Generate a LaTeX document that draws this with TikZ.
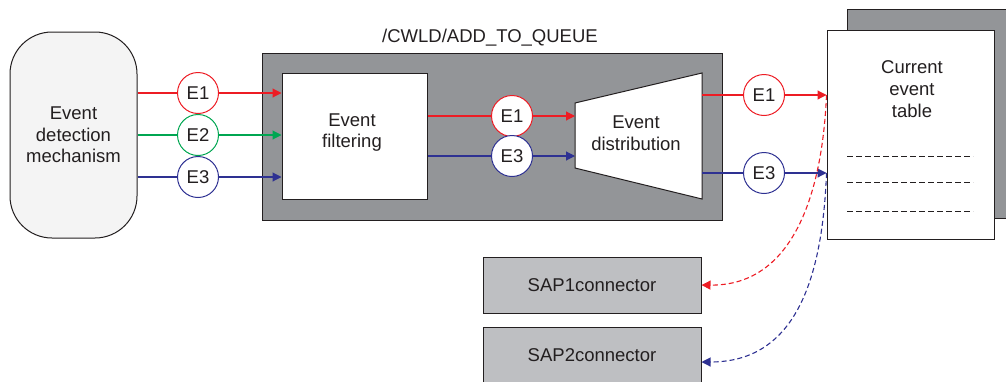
\documentclass[tikz,border=0pt]{standalone}
\usepackage{fontspec}
\setmainfont{Liberation Sans}
\usetikzlibrary{arrows.meta}
\definecolor{ered}{HTML}{ED1C24}
\definecolor{egreen}{HTML}{00A651}
\definecolor{eblue}{HTML}{2E3192}
\definecolor{qgray}{HTML}{939598}
\definecolor{sapgray}{HTML}{BEBFC2}
\definecolor{lightfill}{HTML}{F4F4F4}
\definecolor{txt}{HTML}{231F20}
\begin{document}
\begin{tikzpicture}[x=1pt,y=-1pt,
  font=\fontsize{18.5}{21.7}\selectfont, text=txt,
  box/.style={draw=txt, line width=1pt, inner sep=0pt, align=center},
  evt/.style={circle, draw=#1, line width=1pt, fill=white, minimum size=41pt, inner sep=0pt},
  flow/.style={draw=#1, color=#1, line width=1.1pt},
  tip/.style={-{Triangle[length=9pt,width=9pt]}},
  dtip/.style={-{Triangle[length=9pt,width=9pt]}, dash pattern=on 5pt off 3pt}]
\useasboundingbox (0,0) rectangle (1006,381);

% source
\node[box, rounded corners=42pt, fill=lightfill, minimum width=127pt, minimum height=206pt] (edm) at (73.5,135) {Event\\detection\\mechanism};

% queue
\node[box, fill=qgray, minimum width=460pt, minimum height=167pt] (q) at (492,136.5) {};
\node (qt) at (490,38) {/CWLD/ADD\_TO\_QUEUE};
\node[box, fill=white, minimum width=145pt, minimum height=126pt] (filt) at (354.5,136) {};
\node[align=center] (filtt) at (352,132.5) {Event\\filtering};

% distribution trapezoid
\coordinate (dtl) at (575,103);
\coordinate (dtr) at (702,73);
\coordinate (dbr) at (702,199);
\coordinate (dbl) at (575,168);
\draw[draw=txt, line width=1pt, fill=white] (dtl) -- (dtr) -- (dbr) -- (dbl) -- cycle;
\node[align=center] (dist) at (636,133.5) {Event\\distribution};

% table
\node[box, fill=qgray, minimum width=163pt, minimum height=209pt] (shadow) at (928.5,113.5) {};
\node[box, fill=white, minimum width=167pt, minimum height=209pt] (tab) at (910.5,134.5) {};
\node[align=center] (tabt) at (912,89) {Current\\event\\table};
\coordinate (l1a) at (847,156); \coordinate (l1b) at (973,156);
\coordinate (l2a) at (847,182); \coordinate (l2b) at (973,182);
\coordinate (l3a) at (847,211); \coordinate (l3b) at (973,211);
\draw[txt, line width=0.7pt, dash pattern=on 6pt off 3pt] (l1a) -- (l1b) (l2a) -- (l2b) (l3a) -- (l3b);

% SAP connectors
\node[box, fill=sapgray, minimum width=218pt, minimum height=56pt] (s1) at (592,285) {SAP1connector};
\node[box, fill=sapgray, minimum width=218pt, minimum height=56pt] (s2) at (592,355) {SAP2connector};

% input events
\node[evt=ered] (a1) at (198,93) {E1};
\node[evt=egreen] (a2) at (198,135) {E2};
\node[evt=eblue] (a3) at (198,177) {E3};
\draw[flow=ered] (edm.east |- a1) -- (a1);
\draw[flow=egreen] (edm.east |- a2) -- (a2);
\draw[flow=eblue] (edm.east |- a3) -- (a3);
\draw[flow=ered, tip] (a1) -- (filt.west |- a1);
\draw[flow=egreen, tip] (a2) -- (filt.west |- a2);
\draw[flow=eblue, tip] (a3) -- (filt.west |- a3);

% middle events
\node[evt=ered] (b1) at (512,116) {E1};
\node[evt=eblue] (b3) at (512,156) {E3};
\draw[flow=ered] (filt.east |- b1) -- (b1);
\draw[flow=eblue] (filt.east |- b3) -- (b3);
\draw[flow=ered, tip] (b1) -- (dtl |- b1);
\draw[flow=eblue, tip] (b3) -- (dtl |- b3);

% output events
\node[evt=ered] (c1) at (764,95) {E1};
\node[evt=eblue] (c3) at (764,173) {E3};
\draw[flow=ered] (dtr |- c1) -- (c1);
\draw[flow=eblue] (dtr |- c3) -- (c3);
\draw[flow=ered, tip] (c1) -- (tab.west |- c1);
\draw[flow=eblue, tip] (c3) -- (tab.west |- c3);

% dashed curves
\draw[flow=ered, dtip] (tab.west |- c1) .. controls (822,200) and (790,286) .. (s1.east);
\draw[flow=eblue, dtip] (tab.west |- c3) .. controls (822,290) and (790,362) .. ([yshift=-7pt]s2.east);
\end{tikzpicture}
\end{document}
